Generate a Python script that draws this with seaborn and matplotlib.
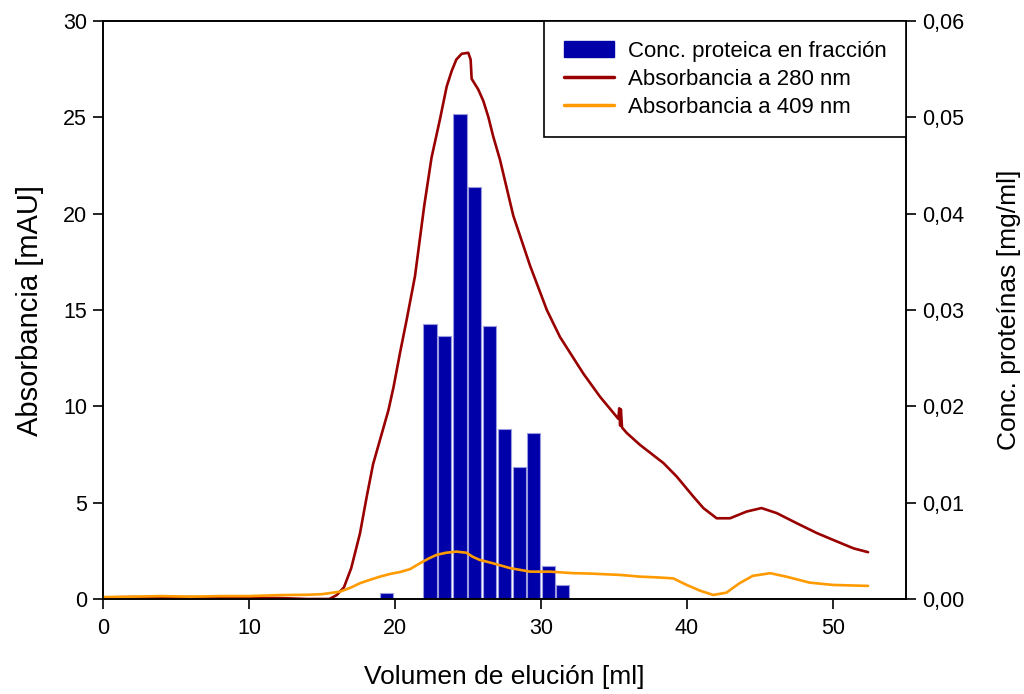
import matplotlib
matplotlib.use("Agg")
import matplotlib.pyplot as plt
from matplotlib.ticker import FuncFormatter
from matplotlib.patches import Patch
import seaborn as sns
import pandas as pd

# ---- data ----
frac_pos = [19.4, 22.4, 23.4, 24.45, 25.45, 26.5, 27.5, 28.5, 29.5, 30.5, 31.5]
frac_conc = [0.0006, 0.0285, 0.0273, 0.0503, 0.0428, 0.0283, 0.0176, 0.0137, 0.0172, 0.0034, 0.0015]

a280_x = [0.0, 2.0, 4.0, 6.0, 8.0, 10.0, 12.0, 14.0, 15.5, 16.0, 16.5, 17.0, 17.6, 18.06, 18.5,
          19.1, 19.55, 19.9, 20.35, 20.8, 21.37, 22.0, 22.5, 23.08, 23.54, 23.88, 24.2, 24.57,
          25.02, 25.18, 25.25, 25.7, 26.05, 26.4, 26.73, 27.19, 28.1, 29.25, 30.4, 31.3, 32.9,
          34.04, 35.3, 35.36, 35.42, 35.47, 35.55, 35.87, 36.78, 38.38, 39.29, 40.43, 41.12,
          42.03, 42.95, 44.09, 45.1, 46.14, 47.5, 48.9, 50.0, 51.4, 52.4]
a280_y = [0.08, 0.1, 0.08, 0.1, 0.08, 0.06, 0.05, 0.0, 0.0, 0.2, 0.6, 1.6, 3.4, 5.3, 7.0,
          8.6, 9.8, 11.0, 12.8, 14.5, 16.76, 20.4, 22.9, 24.9, 26.6, 27.4, 28.0, 28.3,
          28.35, 28.0, 27.0, 26.45, 25.85, 25.0, 24.0, 22.8, 19.9, 17.3, 15.0, 13.6, 11.7,
          10.5, 9.35, 9.9, 9.0, 9.85, 8.9, 8.62, 8.0, 7.06, 6.36, 5.32, 4.72,
          4.19, 4.19, 4.54, 4.72, 4.46, 3.94, 3.42, 3.07, 2.63, 2.43]

a409_x = [0.0, 2.0, 4.0, 6.0, 8.0, 10.0, 12.0, 14.0, 15.0, 16.23, 17.0, 17.6, 18.3, 18.97,
          19.66, 20.34, 21.03, 21.7, 22.3, 22.85, 23.5, 24.2, 24.9, 25.3, 25.8, 26.73, 27.9,
          29.25, 30.6, 32.2, 33.36, 35.4, 36.8, 38.0, 39.06, 39.98, 40.9, 41.8, 42.7, 43.6,
          44.5, 45.7, 46.8, 48.4, 50.0, 52.4]
a409_y = [0.1, 0.12, 0.15, 0.12, 0.15, 0.15, 0.2, 0.22, 0.25, 0.38, 0.6, 0.82, 1.0, 1.16,
          1.3, 1.4, 1.55, 1.85, 2.1, 2.29, 2.4, 2.46, 2.4, 2.2, 2.03, 1.85, 1.6,
          1.42, 1.42, 1.34, 1.32, 1.25, 1.16, 1.12, 1.07, 0.73, 0.43, 0.21, 0.33, 0.82,
          1.2, 1.34, 1.16, 0.85, 0.73, 0.68]

x_ticks = [0, 10, 20, 30, 40, 50]
left_ticks = [0, 5, 10, 15, 20, 25, 30]
right_ticks = [0.0, 0.01, 0.02, 0.03, 0.04, 0.05, 0.06]

lbl_bar = "Conc. proteica en fracción"
lbl_280 = "Absorbancia a 280 nm"
lbl_409 = "Absorbancia a 409 nm"

# ---- style ----
sns.set_style("white")
plt.rcParams["font.family"] = ["Liberation Sans", "DejaVu Sans"]
plt.rcParams["text.color"] = "black"
plt.rcParams["axes.labelcolor"] = "black"
plt.rcParams["xtick.color"] = "black"
plt.rcParams["ytick.color"] = "black"

BAR_C = "#0000A8"
BAR_E = "#9A9AE0"
RED = "#990000"
ORANGE = "#FF9A00"

fig = plt.figure(figsize=(10.24, 6.94), dpi=100)
ax = fig.add_axes([103 / 1024, 95 / 694, 803 / 1024, 578 / 694])
ax2 = ax.twinx()

# bars on the right axis
ax2.bar(frac_pos, frac_conc, width=0.9, color=BAR_C, edgecolor=BAR_E, linewidth=0.8)

# lines on left axis (drawn above bars)
df280 = pd.DataFrame({"x": a280_x, "y": a280_y})
df409 = pd.DataFrame({"x": a409_x, "y": a409_y})
sns.lineplot(data=df280, x="x", y="y", ax=ax, color=RED, linewidth=1.9,
             estimator=None, sort=False, legend=False)
sns.lineplot(data=df409, x="x", y="y", ax=ax, color=ORANGE, linewidth=1.9,
             estimator=None, sort=False, legend=False)

ax.set_zorder(ax2.get_zorder() + 1)
ax.patch.set_visible(False)

ax.set_xlim(0, 55)
ax.set_ylim(0, 30)
ax2.set_ylim(0, 0.06)
ax.set_xticks(x_ticks)
ax.set_yticks(left_ticks)
ax2.set_yticks(right_ticks)
ax2.yaxis.set_major_formatter(FuncFormatter(lambda v, p: f"{v:.2f}".replace(".", ",")))

for a in (ax, ax2):
    for s in a.spines.values():
        s.set_visible(True)
        s.set_color("black")
        s.set_linewidth(1.2)
    a.tick_params(direction="out", length=7, width=1.2, labelsize=15.5, pad=4.5, colors="black")
ax.tick_params(axis="x", pad=7)
ax.tick_params(axis="y", left=True, right=False)
ax.tick_params(axis="x", bottom=True, top=False)
ax2.tick_params(axis="y", right=True, left=False)

ax.set_xlabel("Volumen de elución [ml]", fontsize=19)
ax.set_ylabel("Absorbancia [mAU]", fontsize=21)
ax2.set_ylabel("Conc. proteínas [mg/ml]", fontsize=19)
ax.xaxis.set_label_coords(0.5, -0.115)
ax.yaxis.set_label_coords(-0.073, 0.5)
ax2.yaxis.set_label_coords(1.113, 0.5)

handles = [Patch(facecolor=BAR_C, edgecolor=BAR_C),
           plt.Line2D([], [], color=RED, linewidth=2.5),
           plt.Line2D([], [], color=ORANGE, linewidth=2.5)]
leg = ax.legend(handles, [lbl_bar, lbl_280, lbl_409], loc="upper right",
                bbox_to_anchor=(1.0, 1.0), borderaxespad=0.0, fancybox=False,
                framealpha=1, edgecolor="black", fontsize=16, handlelength=2.25,
                handletextpad=0.63, labelspacing=0.32, borderpad=0.88)
leg.get_frame().set_linewidth(1.2)

fig.savefig("out.png", dpi=100)
